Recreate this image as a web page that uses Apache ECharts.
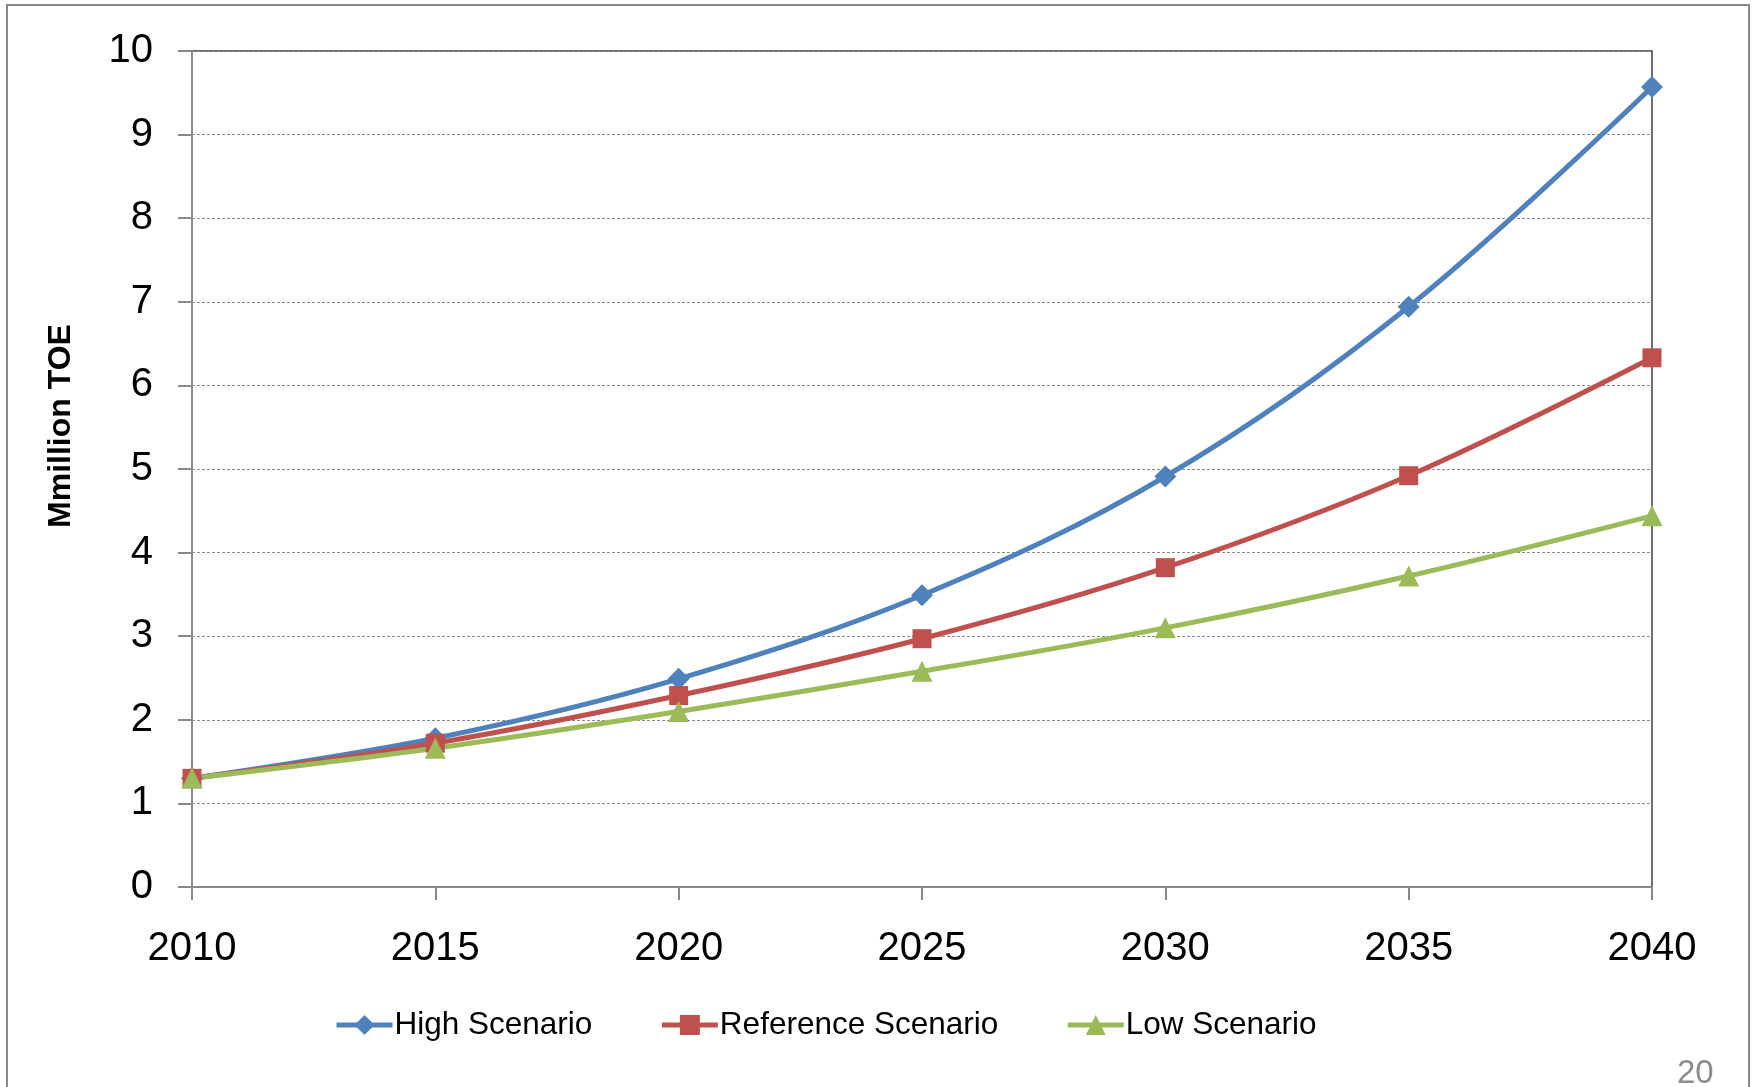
<!DOCTYPE html>
<html>
<head>
<meta charset="utf-8">
<script src="https://cdn.jsdelivr.net/npm/echarts@6/dist/echarts.min.js"></script>
<style>
html,body{margin:0;padding:0;background:#fff;}
#c{width:1754px;height:1087px;}
</style>
</head>
<body>
<div id="c"></div>
<script>
const years = ['2010','2015','2020','2025','2030','2035','2040'];
const highScenario = [1.30, 1.78, 2.49, 3.49, 4.91, 6.94, 9.57];
const referenceScenario = [1.30, 1.72, 2.29, 2.97, 3.82, 4.92, 6.33];
const lowScenario = [1.30, 1.66, 2.10, 2.58, 3.10, 3.72, 4.44];
const yTicks = [0,1,2,3,4,5,6,7,8,9,10];
const seriesNames = ['High Scenario','Reference Scenario','Low Scenario'];
const yAxisTitle = 'Mmillion TOE';
const pageNumber = '20';

const FONT = '"Liberation Sans", Arial, sans-serif';
const chart = echarts.init(document.getElementById('c'), null, {renderer:'canvas'});

function mk(name, data, color, symbol, size){
  return {
    name, type:'line', data, smooth:0.35,
    symbol, symbolSize:size,
    showAllSymbol:true,
    lineStyle:{color, width:5},
    itemStyle:{color, borderWidth:0},
    emphasis:{disabled:true},
    z:3
  };
}

chart.setOption({
  animation:false,
  backgroundColor:'#fff',
  graphic:[
    {type:'rect', shape:{x:7,y:5,width:1742,height:1120}, style:{fill:null, stroke:'#8a8a8a', lineWidth:2}, z:-10, silent:true},
    {type:'text', x:61, y:426, rotation:Math.PI/2, style:{text:yAxisTitle, font:'bold 32px '+FONT, fill:'#000', align:'center', verticalAlign:'middle'}, silent:true},
    {type:'text', left:1677, top:1057, style:{text:pageNumber, font:'33px '+FONT, fill:'#8c8c8c'}, silent:true}
  ],
  grid:{left:192, top:51, right:102, bottom:200, show:true, borderColor:'#404040', borderWidth:1.5, backgroundColor:'transparent'},
  legend:{
    left:329, top:1004,
    itemWidth:56, itemHeight:25, itemGap:67,
    lineStyle:{width:5},
    textStyle:{fontFamily:FONT, fontSize:31.5, color:'#000', padding:[0,0,0,-3]},
    data:seriesNames
  },
  xAxis:{
    type:'category', data:years, boundaryGap:false,
    axisLine:{show:true, lineStyle:{color:'#8a8a8a', width:2}},
    axisTick:{show:true, length:13, lineStyle:{color:'#8a8a8a', width:2}},
    axisLabel:{fontFamily:FONT, fontSize:40, color:'#000', margin:42},
    splitLine:{show:false}
  },
  yAxis:{
    type:'value', min:yTicks[0], max:yTicks[yTicks.length-1], interval:1,
    axisLine:{show:true, lineStyle:{color:'#8a8a8a', width:2}},
    axisTick:{show:true, length:14, lineStyle:{color:'#8a8a8a', width:2}},
    axisLabel:{fontFamily:FONT, fontSize:40, color:'#000', margin:39},
    splitLine:{show:true, lineStyle:{color:'#8a8a8a', width:1.2, type:[3,2]}}
  },
  series:[
    mk(seriesNames[0], highScenario, '#4F81BD', 'diamond', 22),
    mk(seriesNames[1], referenceScenario, '#C0504D', 'rect', 19),
    mk(seriesNames[2], lowScenario, '#9BBB59', 'triangle', 21)
  ]
});
</script>
</body>
</html>
